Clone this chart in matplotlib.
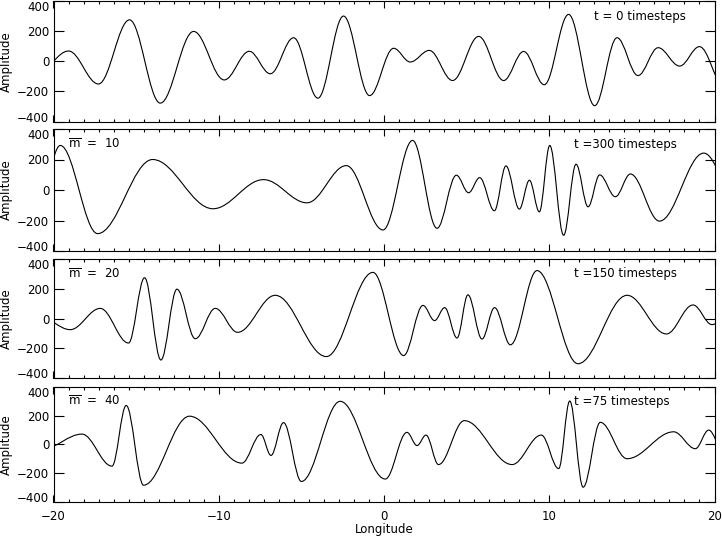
import matplotlib
matplotlib.use('Agg')
import matplotlib.pyplot as plt
from matplotlib.path import Path
from matplotlib.patches import PathPatch
from matplotlib.ticker import MultipleLocator

# turning points (longitude, amplitude),
# first/last pair sit just outside the plotted range
x_t0 = [-20.91, -19.09, -17.28, -15.40, -13.54, -11.52, -9.67, -8.15, -6.88, -5.47, -4.00, -2.45,
        -0.87, 0.58, 1.59, 2.74, 4.15, 5.73, 7.24, 8.45, 9.70, 11.17, 12.75, 14.10, 15.37, 16.59,
        17.89, 19.09, 20.6]
y_t0 = [-70, 68, -151, 275, -278, 198, -124, 66, -83, 156, -245, 300,
        -228, 86, -5, 72, -128, 165, -128, 65, -156, 311, -295, 156, -95, 90,
        -32, 97, -170]

x_m10 = [-21.0, -19.59, -17.33, -14.0, -10.35, -7.29, -4.66, -2.28, -0.06, 1.73, 3.21, 4.38, 5.12,
         5.79, 6.68, 7.38, 8.19, 8.80, 9.40, 10.03, 10.87, 11.62, 12.35, 13.05, 14.0, 14.91, 16.67,
         19.35, 21.5]
y_m10 = [-150, 292, -286, 200, -123, 68, -84, 160, -262, 325, -251, 97, -18,
         81, -136, 158, -125, 64, -143, 292, -297, 169, -110, 99, -44, 105, -204,
         242, -100]

x_m20 = [-20.8, -18.99, -17.17, -15.46, -14.49, -13.50, -12.53, -11.42, -10.21, -8.86, -6.58, -3.49,
         -0.67, 1.19, 2.36, 3.06, 3.67, 4.42, 5.08, 5.93, 6.69, 7.65, 9.26, 11.74, 14.71, 17.09,
         18.70, 19.85, 20.8]
y_m20 = [10, -75, 68, -165, 274, -279, 197, -136, 68, -93, 156, -256,
         310, -249, 88, -14, 73, -131, 159, -138, 73, -177, 322, -304, 156, -104,
         91, -41, 20]

x_m40 = [-20.6, -18.28, -16.46, -15.60, -14.55, -11.77, -8.60, -7.45, -6.84, -6.08, -5.0, -2.65,
         0.08, 1.39, 2.0, 2.54, 3.30, 4.86, 7.75, 9.52, 10.57, 11.24, 12.05, 13.09, 14.71, 17.53,
         18.84, 19.65, 20.5]
y_m40 = [-30, 71, -153, 271, -286, 196, -132, 68, -78, 151, -260, 300,
         -243, 83, -9, 64, -142, 165, -142, 64, -170, 302, -300, 153, -101, 87,
         -31, 99, -40]

xs = [x_t0, x_m10, x_m20, x_m40]
ys = [y_t0, y_m10, y_m20, y_m40]
y_ticks = [-400, -200, 0, 200, 400]
t_labels = ['t = 0 timesteps', 't =300 timesteps', 't =150 timesteps', 't =75 timesteps']
m_labels = [None, r'$\overline{\mathrm{m}}$  =  10', r'$\overline{\mathrm{m}}$  =  20',
            r'$\overline{\mathrm{m}}$  =  40']


def wave_path(xp, yp, k=0.363):
    # smooth curve through turning points: cubic segments with flat tangents at each extremum
    verts = [(xp[0], yp[0])]
    codes = [Path.MOVETO]
    for i in range(len(xp) - 1):
        dx = xp[i + 1] - xp[i]
        verts += [(xp[i] + k * dx, yp[i]), (xp[i + 1] - k * dx, yp[i + 1]), (xp[i + 1], yp[i + 1])]
        codes += [Path.CURVE4] * 3
    return Path(verts, codes)


plt.rcParams['font.family'] = 'DejaVu Sans'
plt.rcParams['font.size'] = 8.5
plt.rcParams['mathtext.fontset'] = 'dejavusans'

W, H = 722, 536
fig = plt.figure(figsize=(W / 100, H / 100), dpi=100)

# panel frames in pixels (top, bottom)
frames = [(1, 121.5), (129, 251), (259, 378), (387, 501.5)]
left, right = 53.5, 714.5

for i in range(4):
    top, bot = frames[i]
    ax = fig.add_axes([left / W, 1 - bot / H, (right - left) / W, (bot - top) / H])
    ax.add_patch(PathPatch(wave_path(xs[i], ys[i]), fill=False, lw=0.8, color='black'))
    ax.set_xlim(-20, 20)
    ax.set_ylim(-400, 400)
    ax.xaxis.set_major_locator(MultipleLocator(10))
    ax.xaxis.set_minor_locator(MultipleLocator(10 / 11))
    ax.set_yticks(y_ticks)
    ax.tick_params(axis='both', which='both', direction='in', top=True, right=True, width=0.8)
    ax.tick_params(axis='y', which='major', length=7.5, pad=3)
    ax.tick_params(axis='x', which='major', length=5)
    ax.tick_params(axis='x', which='minor', length=2.5)
    for s in ax.spines.values():
        s.set_linewidth(0.8)
    ax.set_ylabel('Amplitude')
    ax.yaxis.set_label_coords(-0.061, 0.5)
    # end labels sit inside the frame, like the original
    ylabs = ax.get_yticklabels()
    ylabs[0].set_va('baseline')
    ylabs[-1].set_va('top')
    if i < 3:
        ax.set_xticklabels([])
    else:
        ax.set_xlabel('Longitude', labelpad=0)
        ax.tick_params(axis='x', which='major', pad=6)
    ax.text(0.787 if i else 0.817, 0.875, t_labels[i], transform=ax.transAxes, va='center', ha='left')
    if m_labels[i]:
        ax.text(0.022, 0.875, m_labels[i], transform=ax.transAxes, va='center', ha='left')

fig.savefig('out.png', dpi=100)
